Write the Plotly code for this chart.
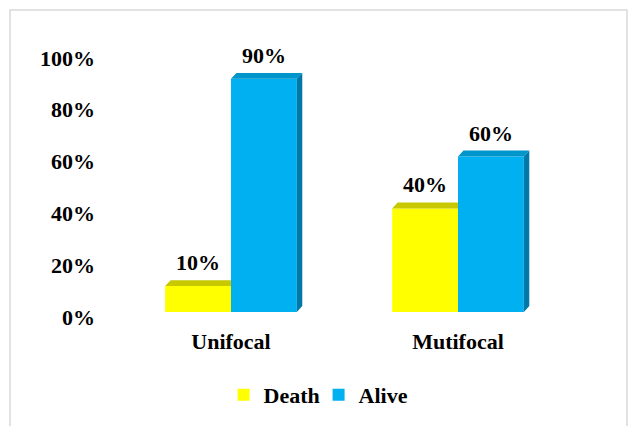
import plotly.graph_objects as go

categories = ["Unifocal", "Mutifocal"]
death = [10, 40]
alive = [90, 60]
series_names = ["Death", "Alive"]
ytick_vals = [0, 20, 40, 60, 80, 100]
ytick_text = ["0%", "20%", "40%", "60%", "80%", "100%"]

FRONT = ["#FFFF00", "#00B0F0"]
TOP = ["#C8C800", "#0096CC"]
SIDE = ["#B0B000", "#0078A8"]

W = 0.29      # bar width (x units)
DX = 0.024    # depth offset x (x units)
DY = 2.3      # depth offset y (y units)
FONT = "Times New Roman, Liberation Serif, serif"
FS = 22

xpos = list(range(len(categories)))
series = [death, alive]
offsets = [-W, 0.0]

fig = go.Figure()

# front faces
for s, vals in enumerate(series):
    fig.add_trace(go.Bar(
        x=xpos, y=vals, name=series_names[s], offset=offsets[s], width=W,
        marker=dict(color=FRONT[s], line=dict(width=0)),
        showlegend=True, hoverinfo="skip",
    ))

# 3D tops and sides
for s, vals in enumerate(series):
    tx, ty, sx, sy = [], [], [], []
    for i, v in enumerate(vals):
        x0 = xpos[i] + offsets[s]
        x1 = x0 + W
        right_end = x1 + DX
        if s + 1 < len(series) and series[s + 1][i] >= v:
            right_end = x1  # hidden behind taller neighbour
        tx += [x0, x0 + DX, right_end, x1, x0, None]
        ty += [v, v + DY, v + DY, v, v, None]
        if s == len(series) - 1 or series[s + 1][i] < v:
            sx += [x1, x1 + DX, x1 + DX, x1, x1, None]
            sy += [0, DY, v + DY, v, 0, None]
    fig.add_trace(go.Scatter(x=tx, y=ty, fill="toself", mode="lines",
                             line=dict(width=0, color=TOP[s]), fillcolor=TOP[s],
                             showlegend=False, hoverinfo="skip"))
    if sx:
        fig.add_trace(go.Scatter(x=sx, y=sy, fill="toself", mode="lines",
                                 line=dict(width=0, color=SIDE[s]), fillcolor=SIDE[s],
                                 showlegend=False, hoverinfo="skip"))

# value labels
for s, vals in enumerate(series):
    for i, v in enumerate(vals):
        fig.add_annotation(x=xpos[i] + offsets[s] + W / 2, y=v + DY,
                           text=f"{v}%", showarrow=False, yanchor="bottom",
                           yshift=3, font=dict(family=FONT, size=FS, color="black", weight="bold"))

# border
L, R, T, B = 100, 43, 40, 113
pw, ph = 632 - L - R, 426 - T - B
fig.add_shape(type="rect", xref="paper", yref="paper",
              x0=(10 - L) / pw, x1=(627 - L) / pw,
              y0=(426 - B - 440) / ph, y1=(426 - B - 10) / ph,
              line=dict(color="#D9D9D9", width=1.5), layer="below")

fig.update_layout(
    width=632, height=426,
    margin=dict(l=L, r=R, t=T, b=B),
    paper_bgcolor="white", plot_bgcolor="white",
    font=dict(family=FONT, size=FS, color="black", weight="bold"),
    barmode="overlay",
    showlegend=True,
    legend=dict(orientation="h", x=0.447, xanchor="center", y=-0.30, yanchor="middle",
                font=dict(family=FONT, size=FS, color="black", weight="bold"),
                itemwidth=30, traceorder="normal",
                entrywidth=50, entrywidthmode="pixels"),
    xaxis=dict(range=[-0.577, 1.577], tickvals=xpos, ticktext=categories,
               showgrid=False, zeroline=False, showline=False, ticks="",
               ticklabelstandoff=14, fixedrange=True),
    yaxis=dict(range=[0, 105], tickvals=ytick_vals, ticktext=ytick_text,
               showgrid=False, zeroline=False, showline=False, ticks="",
               ticklabelstandoff=4, ticklabelshift=5, fixedrange=True),
)

fig.write_html("out.html", config={"displayModeBar": False},
               post_script="document.body.style.margin='0';document.body.style.padding='0';")
